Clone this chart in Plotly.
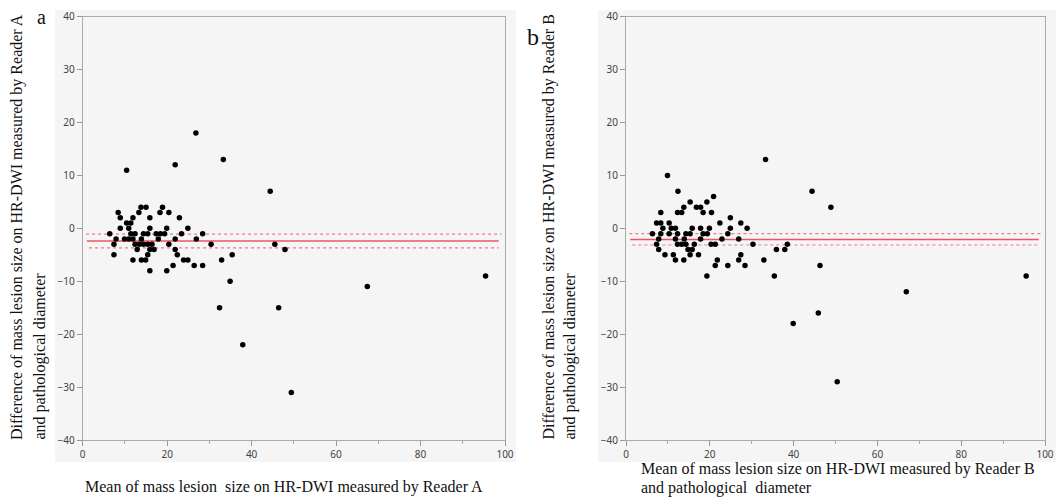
import plotly.graph_objects as go

# ---------------- data ----------------
# Panel a: Reader A  (mean size, difference)
a_mean = [10.4, 21.9, 33.3, 26.8, 44.4, 45.5, 47.9,
          13.8, 15.0, 18.9,
          8.4, 13.3, 18.3, 20.4,
          8.9, 11.9, 15.9, 22.9,
          10.4, 11.4,
          8.9, 10.9, 15.9, 19.9, 24.9,
          6.4, 11.4, 12.4, 14.4, 15.4, 17.4, 18.4, 19.4, 23.4, 28.4,
          7.9, 9.9, 10.9, 11.9, 13.9, 17.9, 21.9, 26.9,
          7.4, 12.4, 13.4, 14.4, 15.4, 16.4, 20.4, 30.4,
          12.9, 15.9, 16.9, 21.9,
          7.4, 15.4, 22.4, 35.4,
          11.9, 13.9, 14.9, 23.9, 24.9, 32.9,
          21.4, 26.4, 28.4,
          15.9, 19.9,
          34.9, 67.4, 95.4, 46.4, 37.9, 49.4, 32.4]
a_diff = [11, 12, 13, 18, 7, -3, -4,
          4, 4, 4,
          3, 3, 3, 3,
          2, 2, 2, 2,
          1, 1,
          0, 0, 0, 0, 0,
          -1, -1, -1, -1, -1, -1, -1, -1, -1, -1,
          -2, -2, -2, -2, -2, -2, -2, -2,
          -3, -3, -3, -3, -3, -3, -3, -3,
          -4, -4, -4, -4,
          -5, -5, -5, -5,
          -6, -6, -6, -6, -6, -6,
          -7, -7, -7,
          -8, -8,
          -10, -11, -9, -15, -22, -31, -15]
a_bias = -2.4
a_ci = [-1.1, -3.7]

# Panel b: Reader B
b_mean = [33.3, 9.9, 12.4, 44.4, 48.9, 20.9, 15.3, 19.3,
          8.3, 12.3, 13.3, 18.4, 20.4,
          13.8, 16.8, 17.8,
          7.3, 8.3, 10.3, 22.4, 27.4,
          24.9,
          8.8, 10.8, 11.8, 15.8, 17.8, 19.9, 24.9, 28.9,
          6.3, 8.3, 10.3, 12.3, 14.3, 15.3, 18.4, 19.4, 24.3,
          7.8, 11.8, 13.9, 17.8, 22.9, 26.9,
          7.3, 12.3, 13.3, 14.3, 16.3, 20.3, 21.3, 30.3, 38.5,
          7.8, 14.8, 15.8, 35.9, 37.9,
          9.3, 11.3, 15.3, 17.3, 27.4,
          11.8, 13.8, 21.8, 26.9, 32.9,
          21.3, 24.3, 28.4, 46.3,
          19.3, 35.4,
          66.9, 95.5, 45.9, 39.9, 50.4]
b_diff = [13, 10, 7, 7, 4, 6, 5, 5,
          3, 3, 3, 3, 3,
          4, 4, 4,
          1, 1, 1, 1, 1,
          2,
          0, 0, 0, 0, 0, 0, 0, 0,
          -1, -1, -1, -1, -1, -1, -1, -1, -1,
          -2, -2, -2, -2, -2, -2,
          -3, -3, -3, -3, -3, -3, -3, -3, -3,
          -4, -4, -4, -4, -4,
          -5, -5, -5, -5, -5,
          -6, -6, -6, -6, -6,
          -7, -7, -7, -7,
          -9, -9,
          -12, -9, -16, -18, -29]
b_bias = -2.1
b_ci = [-1.0, -3.15]

x_ticks = [0, 20, 40, 60, 80, 100]
y_ticks = [-40, -30, -20, -10, 0, 10, 20, 30, 40]

NB = "\u00a0"
y_title_1 = ["Difference of mass lesion size on HR-DWI measured by Reader A",
             "Difference of mass lesion size on HR-DWI measured by Reader B"]
y_title_2 = "and pathological diameter"
x_title_a = f"Mean of mass lesion {NB}size on HR-DWI measured by Reader A"
x_title_b = f"Mean of mass lesion size on HR-DWI measured by Reader B"
x_title_b2 = f"and pathological {NB}diameter"

# ---------------- layout helpers ----------------
W, H = 1056, 504
def px(x):
    return x / W
def py(y):
    return 1 - y / H

fig = go.Figure()

SERIF = "Liberation Serif, Times New Roman, serif"
TICKFONT = dict(family="Noto Sans, Segoe UI, sans-serif", size=10, color="#444444")
RED = "#ee5560"
RED_DOT = "#f27a82"

panels = [
    ("x", "y", a_mean, a_diff, a_bias, a_ci),
    ("x2", "y2", b_mean, b_diff, b_bias, b_ci),
]
for xa, ya, xm, dd, bias, ci in panels:
    fig.add_trace(go.Scatter(x=[0.8, 99.2], y=[ci[0], ci[0]], mode="lines",
                             line=dict(color=RED_DOT, width=1.2, dash="dot"),
                             xaxis=xa, yaxis=ya, showlegend=False, hoverinfo="skip"))
    fig.add_trace(go.Scatter(x=[1, 98.5], y=[bias, bias], mode="lines",
                             line=dict(color=RED, width=1.5),
                             xaxis=xa, yaxis=ya, showlegend=False, hoverinfo="skip"))
    fig.add_trace(go.Scatter(x=[1.5, 98.5], y=[ci[1], ci[1]], mode="lines",
                             line=dict(color=RED_DOT, width=1.2, dash="dot"),
                             xaxis=xa, yaxis=ya, showlegend=False, hoverinfo="skip"))
    fig.add_trace(go.Scatter(x=xm, y=dd, mode="markers",
                             marker=dict(color="black", size=5.5, line=dict(width=0)),
                             xaxis=xa, yaxis=ya, showlegend=False))

axis_common = dict(showgrid=False, zeroline=False, showline=True, mirror=True,
                   linecolor="#aaaaaa", linewidth=1, ticks="outside", ticklen=5,
                   tickcolor="#999999", tickfont=TICKFONT, automargin=False,
                   ticklabeloverflow="allow")

xdom_a = [px(82.7), px(505)]
xdom_b = [px(626), px(1045)]
ydom = [py(440), py(16.7)]

minor = dict(dtick=10, ticks="outside", ticklen=3, tickcolor="#aaaaaa", showgrid=False)

fig.update_layout(
    template="none",
    width=W, height=H, autosize=False,
    margin=dict(l=0, r=0, t=0, b=0, pad=0, autoexpand=False),
    paper_bgcolor="white", plot_bgcolor="white",
    showlegend=False,
    xaxis=dict(domain=xdom_a, anchor="y", range=[0, 100], tickvals=x_ticks,
               minor=minor, **axis_common),
    yaxis=dict(domain=ydom, anchor="x", range=[-40, 40], tickvals=y_ticks, **axis_common),
    xaxis2=dict(domain=xdom_b, anchor="y2", range=[0, 100], tickvals=x_ticks,
                minor=minor, **axis_common),
    yaxis2=dict(domain=ydom, anchor="x2", range=[-40, 40], tickvals=y_ticks, **axis_common),
)

# light gray frame behind each panel (as in the JMP output)
for x0, x1 in [(55, 516), (598, 1056)]:
    fig.add_shape(type="rect", xref="paper", yref="paper",
                  x0=px(x0), x1=px(x1), y0=py(462), y1=py(10),
                  fillcolor="#f5f5f5", line=dict(width=0), layer="below")

ann = []
tf = dict(family=SERIF, size=16, color="#111111")
# Y titles
for i, (lx1, lx2) in enumerate([(17, 39), (548, 569)]):
    ann.append(dict(text=y_title_1[i], x=px(lx1), y=py(442), xref="paper", yref="paper",
                    textangle=-90, xanchor="center", yanchor="bottom", showarrow=False, font=tf))
    ann.append(dict(text=y_title_2, x=px(lx2), y=py(442), xref="paper", yref="paper",
                    textangle=-90, xanchor="center", yanchor="bottom", showarrow=False, font=tf))
# X titles
ann.append(dict(text=x_title_a, x=px(83), y=py(487), xref="paper", yref="paper",
                xanchor="left", yanchor="middle", showarrow=False, font=tf))
ann.append(dict(text=x_title_b, x=px(639), y=py(469), xref="paper", yref="paper",
                xanchor="left", yanchor="middle", showarrow=False, font=tf))
ann.append(dict(text=x_title_b2, x=px(639), y=py(488), xref="paper", yref="paper",
                xanchor="left", yanchor="middle", showarrow=False, font=tf))
# panel labels
ann.append(dict(text="a", x=px(41), y=py(17), xref="paper", yref="paper",
                xanchor="center", yanchor="middle", showarrow=False,
                font=dict(family=SERIF, size=20, color="#111111")))
ann.append(dict(text="b", x=px(533), y=py(37), xref="paper", yref="paper",
                xanchor="center", yanchor="middle", showarrow=False,
                font=dict(family=SERIF, size=24, color="#111111")))
fig.update_layout(annotations=ann)

fig.write_html("out.html",
               config={"displayModeBar": False},
               post_script="document.body.style.margin='0px';document.body.style.overflow='hidden';")
